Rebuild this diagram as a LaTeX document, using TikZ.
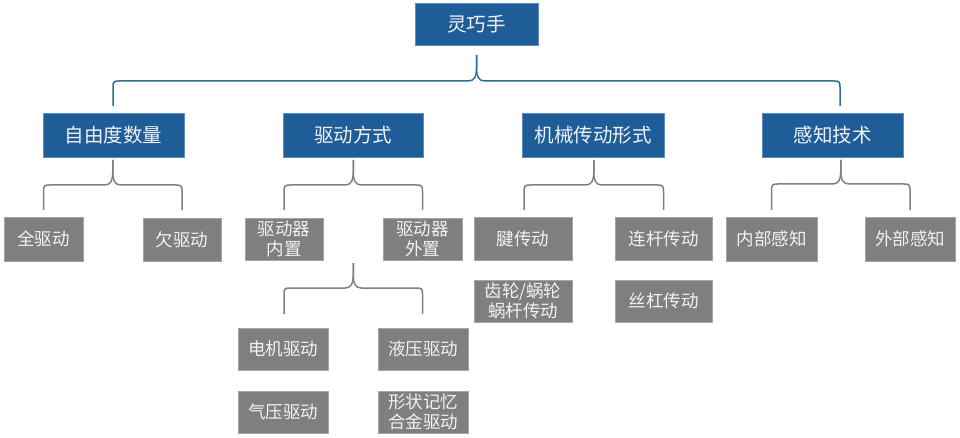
\documentclass[tikz,border=0pt]{standalone}
\usepackage{fontspec}
\newfontfamily\cjk{Noto Sans CJK SC}
\definecolor{boxblue}{RGB}{31,93,153}
\definecolor{boxblueedge}{RGB}{96,140,190}
\definecolor{boxgray}{RGB}{127,127,127}
\definecolor{boxgrayedge}{RGB}{165,165,165}
\definecolor{braceblue}{RGB}{46,110,150}
\definecolor{bracegray}{RGB}{128,128,128}
\definecolor{txtlight}{RGB}{242,242,242}
\tikzset{
  bluebox/.style={draw=boxblueedge, line width=0.6pt, fill=boxblue, text=txtlight,
    inner sep=0pt, font=\cjk\fontsize{19.5}{22}\selectfont, align=center},
  graybox/.style={draw=boxgrayedge, line width=0.6pt, fill=boxgray, text=txtlight,
    inner sep=0pt, font=\cjk\fontsize{17.5}{20}\selectfont, align=center},
  bluebrace/.style={draw=braceblue, line width=1.5pt},
  graybrace/.style={draw=bracegray, line width=1.5pt},
}
% #1 style, #2 left x, #3 right x, #4 top y, #5 mid y, #6 bottom y
\newcommand{\cbrace}[6]{%
  \pgfmathsetmacro{\bxc}{(#2+#3)/2}%
  \draw[#1] (#2,#6) -- (#2,#5+6) .. controls (#2,#5+1) and (#2+1,#5) .. (#2+6,#5)
     -- (\bxc-8,#5) .. controls (\bxc-2,#5) and (\bxc,#5-5) .. (\bxc,#5-12) -- (\bxc,#4);
  \draw[#1] (#3,#6) -- (#3,#5+6) .. controls (#3,#5+1) and (#3-1,#5) .. (#3-6,#5)
     -- (\bxc+8,#5) .. controls (\bxc+2,#5) and (\bxc,#5-5) .. (\bxc,#5-12) -- (\bxc,#4);
}
\begin{document}
\begin{tikzpicture}[x=1pt,y=-1pt]
\useasboundingbox (0,0) rectangle (960,438);
% top
\node[bluebox, minimum width=123pt, minimum height=42pt] (top) at (476.5,24) {灵巧手};
% level 1
\node[bluebox, minimum width=141pt, minimum height=44pt] (b1) at (113.5,135) {自由度数量};
\node[bluebox, minimum width=140pt, minimum height=44pt] (b2) at (353,135) {驱动方式};
\node[bluebox, minimum width=142pt, minimum height=44pt] (b3) at (593,135) {机械传动形式};
\node[bluebox, minimum width=141pt, minimum height=44pt] (b4) at (832.5,135) {感知技术};
% level 2
\node[graybox, minimum width=79pt, minimum height=44pt] (g11) at (43.5,239) {全驱动};
\node[graybox, minimum width=78pt, minimum height=43pt] (g12) at (182,239.5) {欠驱动};
\node[graybox, minimum width=78pt, minimum height=42pt] (g21) at (284,239) {驱动器\\内置};
\node[graybox, minimum width=79pt, minimum height=42pt] (g22) at (422.5,239) {驱动器\\外置};
\node[graybox, minimum width=90pt, minimum height=42pt] (g31) at (283,349) {电机驱动};
\node[graybox, minimum width=90pt, minimum height=42pt] (g32) at (423,349) {液压驱动};
\node[graybox, minimum width=90pt, minimum height=42pt] (g33) at (283,412) {气压驱动};
\node[graybox, minimum width=90pt, minimum height=42pt] (g34) at (423,412) {形状记忆\\合金驱动};
\node[graybox, minimum width=98pt, minimum height=43pt] (g41) at (523,238.5) {腱传动};
\node[graybox, minimum width=97pt, minimum height=43pt] (g42) at (663.5,238.5) {连杆传动};
\node[graybox, minimum width=98pt, minimum height=42pt] (g43) at (523,301) {齿轮/蜗轮\\蜗杆传动};
\node[graybox, minimum width=97pt, minimum height=42pt] (g44) at (663.5,301) {丝杠传动};
\node[graybox, minimum width=91pt, minimum height=44pt] (g51) at (771.5,239) {内部感知};
\node[graybox, minimum width=90pt, minimum height=44pt] (g52) at (910,239) {外部感知};
% braces
\cbrace{bluebrace}{113}{840}{55}{81}{106}
\cbrace{graybrace}{43.5}{182}{160}{185}{210}
\cbrace{graybrace}{284}{422.5}{160}{185}{210}
\cbrace{graybrace}{284}{422.5}{263}{288}{314}
\cbrace{graybrace}{524}{663.5}{160}{185}{210}
\cbrace{graybrace}{771.5}{910}{160}{184}{210}
\end{tikzpicture}
\end{document}
